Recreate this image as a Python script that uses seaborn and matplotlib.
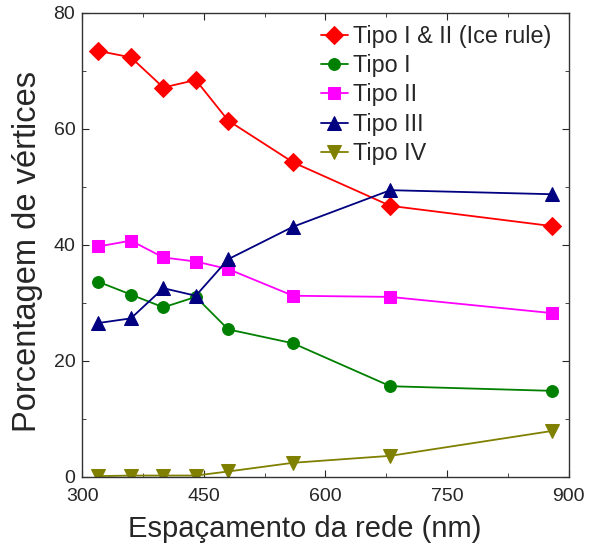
import matplotlib.pyplot as plt
import seaborn as sns
import pandas as pd
from matplotlib.ticker import MultipleLocator

spacing = [320, 360, 400, 440, 480, 560, 680, 880]
tipo_ice = [73.4, 72.3, 67.1, 68.4, 61.4, 54.2, 46.7, 43.2]
tipo_1 = [33.6, 31.4, 29.2, 31.0, 25.4, 23.0, 15.6, 14.8]
tipo_2 = [39.7, 40.7, 37.8, 37.1, 35.8, 31.2, 31.0, 28.2]
tipo_3 = [26.5, 27.3, 32.5, 31.2, 37.5, 43.1, 49.4, 48.7]
tipo_4 = [0.1, 0.2, 0.2, 0.2, 0.9, 2.4, 3.6, 7.9]

labels = ["Tipo I & II (Ice rule)", "Tipo I", "Tipo II", "Tipo III", "Tipo IV"]
series = [tipo_ice, tipo_1, tipo_2, tipo_3, tipo_4]
colors = ["#ff0000", "#008000", "#ff00ff", "#000080", "#808000"]
markers = ["D", "o", "s", "^", "v"]
sizes = [9, 8.5, 9, 10, 10]

rows = []
for lab, vals in zip(labels, series):
    for x, y in zip(spacing, vals):
        rows.append({"x": x, "y": y, "tipo": lab})
df = pd.DataFrame(rows)

sns.set_style("ticks")
plt.rcParams['font.family'] = ['Liberation Sans', 'DejaVu Sans']

fig = plt.figure(figsize=(5.89, 5.52), dpi=100)
ax = fig.add_axes([0.1397, 0.1364, 0.8258, 0.8406])

for lab, c, m, s in zip(labels, colors, markers, sizes):
    sub = df[df["tipo"] == lab]
    sns.lineplot(data=sub, x="x", y="y", ax=ax, color=c, marker=m,
                 markersize=s, markeredgecolor=c, linewidth=1.3, label=lab)

ax.set_xlim(300, 900)
ax.set_ylim(0, 80)
ax.xaxis.set_major_locator(MultipleLocator(150))
ax.xaxis.set_minor_locator(MultipleLocator(75))
ax.yaxis.set_major_locator(MultipleLocator(20))
ax.yaxis.set_minor_locator(MultipleLocator(10))
ax.tick_params(which="both", direction="in", top=True, right=True, labelsize=14)
ax.tick_params(axis="x", pad=8)
ax.tick_params(axis="y", pad=5)
ax.tick_params(which="major", length=5)
ax.tick_params(which="minor", length=3)
for sp in ax.spines.values():
    sp.set_linewidth(1.0)
    sp.set_color("#333333")

ax.set_xlabel("Espaçamento da rede (nm)", fontsize=21)
ax.set_ylabel("Porcentagem de vértices", fontsize=23.5)
ax.xaxis.set_label_coords(0.458, -0.082)
ax.yaxis.set_label_coords(-0.08, 0.486)

ax.legend(loc="upper right", bbox_to_anchor=(0.994, 1.004), frameon=False,
          fontsize=16.8, handlelength=1.15, handletextpad=0.25,
          labelspacing=0.27, borderaxespad=0.2)

fig.savefig("out.png", dpi=100)
